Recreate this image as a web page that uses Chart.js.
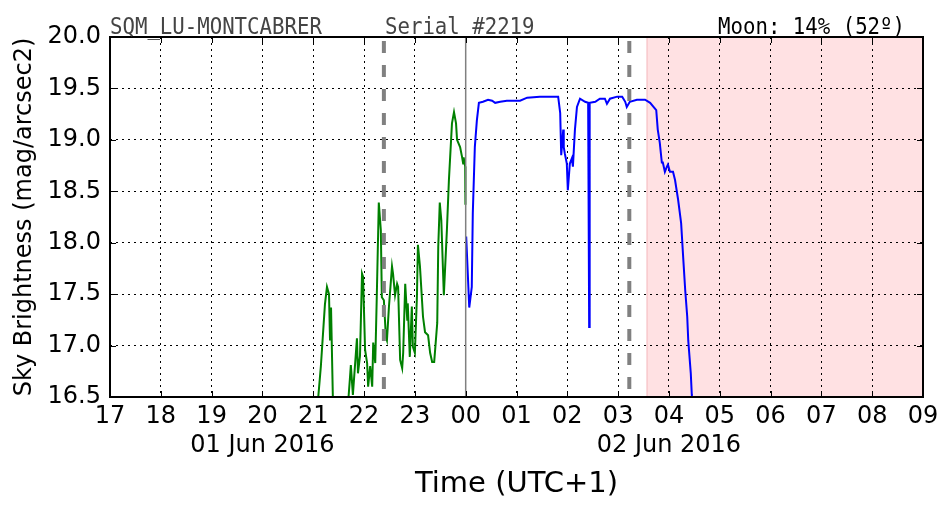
<!DOCTYPE html>
<html>
<head>
<meta charset="utf-8">
<script src="https://cdn.jsdelivr.net/npm/chart.js@4.4.0/dist/chart.umd.min.js"></script>
<style>
  html, body { margin: 0; padding: 0; background: #fff; }
  #wrap { width: 952px; height: 512px; position: relative; }
</style>
</head>
<body>
<div id="wrap"><canvas id="sqm"></canvas></div>
<script>
// hours since 00:00 on 01 Jun 2016 (UTC+1), values > 24 are on 02 Jun
const greenHours = [21.09, 21.15, 21.23, 21.27, 21.31, 21.33, 21.35, 21.39,
  21.68, 21.72, 21.74, 21.78, 21.86, 21.88, 21.92, 21.96, 21.98, 22.02, 22.06, 22.08,
  22.12, 22.16, 22.18, 22.22, 22.25, 22.29, 22.33, 22.35, 22.39, 22.43, 22.45, 22.49,
  22.55, 22.57, 22.61, 22.65, 22.67, 22.71, 22.75, 22.77, 22.81, 22.85, 22.86, 22.90,
  22.94, 22.96, 23.00, 23.04, 23.06, 23.10, 23.16, 23.20, 23.26, 23.30, 23.34, 23.38,
  23.44, 23.46, 23.49, 23.52, 23.57, 23.63, 23.67, 23.73, 23.77, 23.81, 23.83, 23.89,
  23.93, 23.95, 23.96, 23.99, 23.995];
const greenMags = [16.45, 16.80, 17.40, 17.57, 17.50, 17.05, 17.37, 16.40,
  16.40, 16.67, 16.81, 16.52, 17.07, 16.73, 16.90, 17.70, 17.67, 16.96, 16.83, 16.60,
  16.80, 16.60, 17.03, 16.83, 17.47, 18.39, 18.12, 17.47, 17.44, 17.08, 17.05, 17.38,
  17.77, 17.70, 17.49, 17.60, 17.57, 16.86, 16.78, 16.93, 17.60, 17.25, 17.41, 16.89,
  17.38, 16.99, 16.93, 17.47, 17.98, 17.77, 17.28, 17.13, 17.10, 16.93, 16.84, 16.84,
  17.22, 17.96, 18.39, 18.22, 17.49, 18.12, 18.61, 19.16, 19.27, 19.16, 19.00, 18.93,
  18.83, 18.77, 18.83, 18.74, 18.37];
const blueHours = [24.01, 24.07, 24.12, 24.14, 24.18, 24.22, 24.26, 24.34, 24.44,
  24.52, 24.58, 24.68, 24.81, 25.07, 25.21, 25.46, 25.66, 25.82, 25.86, 25.88, 25.92,
  25.93, 25.95, 25.99, 26.01, 26.05, 26.09, 26.11, 26.15, 26.19, 26.25, 26.35, 26.41,
  26.43, 26.44, 26.55, 26.64, 26.74, 26.78, 26.84, 26.98, 27.08, 27.14, 27.17, 27.23,
  27.37, 27.53, 27.63, 27.75, 27.78, 27.82, 27.86, 27.88, 27.92, 27.96, 27.98, 28.02,
  28.08, 28.12, 28.18, 28.24, 28.28, 28.32, 28.36, 28.38, 28.43, 28.45, 28.47];
const blueMags = [18.06, 17.37, 17.57, 18.29, 18.93, 19.19, 19.36, 19.37, 19.39,
  19.38, 19.36, 19.37, 19.38, 19.38, 19.41, 19.42, 19.42, 19.42, 19.26, 18.85, 19.10,
  18.93, 18.87, 18.77, 18.51, 18.77, 18.82, 18.74, 19.10, 19.32, 19.40, 19.37, 19.36,
  17.18, 19.36, 19.37, 19.40, 19.40, 19.35, 19.40, 19.42, 19.42, 19.37, 19.32, 19.37,
  19.39, 19.39, 19.36, 19.29, 19.10, 18.97, 18.78, 18.78, 18.69, 18.74, 18.76, 18.69,
  18.69, 18.61, 18.42, 18.19, 17.86, 17.54, 17.28, 17.05, 16.73, 16.52, 16.40];

const xTickHours = [17, 18, 19, 20, 21, 22, 23, 24, 25, 26, 27, 28, 29, 30, 31, 32, 33];
const xTickLabels = ["17", "18", "19", "20", "21", "22", "23", "00", "01", "02", "03",
  "04", "05", "06", "07", "08", "09"];
const dateLabelHours = [20, 28];
const dateLabels = ["01 Jun 2016", "02 Jun 2016"];
const yTicks = [16.5, 17.0, 17.5, 18.0, 18.5, 19.0, 19.5, 20.0];

const twilightHours = [22.39, 27.22];
const midnightHour = 24;
const dayStartHour = 27.57;

const stationText = "SQM_LU-MONTCABRER";
const serialText = "Serial #2219";
const moonText = "Moon: 14% (52º)";

const toPoints = (xs, ys) => xs.map((x, i) => ({ x, y: ys[i] }));

// narrow mono header text, like the original
function headerText(ctx, text, x, y, align) {
  const sx = 0.9;
  ctx.save();
  ctx.translate(x, y);
  ctx.scale(sx, 1);
  ctx.textAlign = align;
  ctx.fillText(text, 0, 0);
  ctx.restore();
}

const overlays = {
  id: "overlays",
  beforeDraw(chart) {
    const { ctx, chartArea: a, scales: { x } } = chart;
    const left = x.getPixelForValue(dayStartHour);
    ctx.save();
    ctx.fillStyle = "#ffe1e3";
    ctx.fillRect(left, a.top, a.right - left, a.bottom - a.top);
    ctx.strokeStyle = "#f8c8cc";
    ctx.lineWidth = 1.5;
    ctx.beginPath();
    ctx.moveTo(left, a.top);
    ctx.lineTo(left, a.bottom);
    ctx.stroke();
    ctx.restore();
  },
  afterDatasetsDraw(chart) {
    const { ctx, chartArea: a, scales: { x, y } } = chart;
    ctx.save();
    // midnight
    ctx.strokeStyle = "#808080";
    ctx.lineWidth = 1.5;
    const mx = x.getPixelForValue(midnightHour);
    ctx.beginPath();
    ctx.moveTo(mx, a.top);
    ctx.lineTo(mx, a.bottom);
    ctx.stroke();
    // twilight markers
    ctx.lineWidth = 4;
    ctx.setLineDash([12, 12]);
    twilightHours.forEach((h) => {
      const px = x.getPixelForValue(h);
      ctx.beginPath();
      ctx.moveTo(px, a.top + 4);
      ctx.lineTo(px, a.bottom);
      ctx.stroke();
    });
    ctx.setLineDash([]);
    // frame and inward ticks
    ctx.strokeStyle = "#000";
    ctx.lineWidth = 2;
    ctx.strokeRect(a.left, a.top, a.right - a.left, a.bottom - a.top);
    ctx.lineWidth = 1;
    ctx.beginPath();
    xTickHours.forEach((h) => {
      const px = Math.round(x.getPixelForValue(h)) + 0.5;
      ctx.moveTo(px, a.bottom); ctx.lineTo(px, a.bottom - 6);
      ctx.moveTo(px, a.top); ctx.lineTo(px, a.top + 6);
    });
    yTicks.forEach((v) => {
      const py = Math.round(y.getPixelForValue(v)) + 0.5;
      ctx.moveTo(a.left, py); ctx.lineTo(a.left + 6, py);
      ctx.moveTo(a.right, py); ctx.lineTo(a.right - 6, py);
    });
    ctx.stroke();
    // header texts
    ctx.font = "23px 'DejaVu Sans Mono'";
    ctx.textBaseline = "alphabetic";
    ctx.fillStyle = "#444";
    headerText(ctx, stationText, a.left, a.top - 3, "left");
    headerText(ctx, serialText, 385, a.top - 3, "left");
    ctx.fillStyle = "#000";
    headerText(ctx, moonText, 905, a.top - 3, "right");
    ctx.restore();
  },
};

new Chart(document.getElementById("sqm"), {
  type: "line",
  data: {
    datasets: [
      { data: toPoints(greenHours, greenMags), borderColor: "#008000", borderWidth: 2,
        pointRadius: 0, tension: 0, fill: false },
      { data: toPoints(blueHours, blueMags), borderColor: "#0000ff", borderWidth: 2,
        pointRadius: 0, tension: 0, fill: false },
    ],
  },
  options: {
    responsive: true,
    maintainAspectRatio: false,
    animation: false,
    events: [],
    layout: { padding: { top: 37, right: 29, left: 0, bottom: 0 } },
    plugins: { legend: { display: false }, tooltip: { enabled: false } },
    scales: {
      x: {
        type: "linear",
        min: 17,
        max: 33,
        afterBuildTicks: (s) => { s.ticks = xTickHours.map((v) => ({ value: v })); },
        afterFit: (s) => { s.height = 115; },
        ticks: {
          autoSkip: false,
          maxRotation: 0,
          color: "#000",
          padding: 5,
          font: { family: "'DejaVu Sans'", size: 24, lineHeight: 1.22 },
          callback: (v) => {
            const i = xTickHours.indexOf(v);
            const d = dateLabelHours.indexOf(v);
            return d >= 0 ? [xTickLabels[i], dateLabels[d]] : xTickLabels[i];
          },
        },
        grid: { color: "#000", lineWidth: 1, drawTicks: false },
        border: { display: false, dash: [2, 4] },
        title: {
          display: true,
          text: "Time (UTC+1)",
          color: "#000",
          font: { family: "'DejaVu Sans'", size: 29 },
          padding: { top: 0, bottom: 10 },
        },
      },
      y: {
        min: 16.5,
        max: 20,
        afterBuildTicks: (s) => { s.ticks = yTicks.map((v) => ({ value: v })); },
        afterFit: (s) => { s.width = 110; },
        ticks: {
          color: "#000",
          padding: 9,
          font: { family: "'DejaVu Sans'", size: 24 },
          callback: (v) => v.toFixed(1),
        },
        grid: { color: "#000", lineWidth: 1, drawTicks: false },
        border: { display: false, dash: [2, 4] },
        title: {
          display: true,
          text: "Sky Brightness (mag/arcsec2)",
          color: "#000",
          font: { family: "'DejaVu Sans'", size: 24 },
          padding: { top: 10, bottom: 0 },
        },
      },
    },
  },
  plugins: [overlays],
});
</script>
</body>
</html>
